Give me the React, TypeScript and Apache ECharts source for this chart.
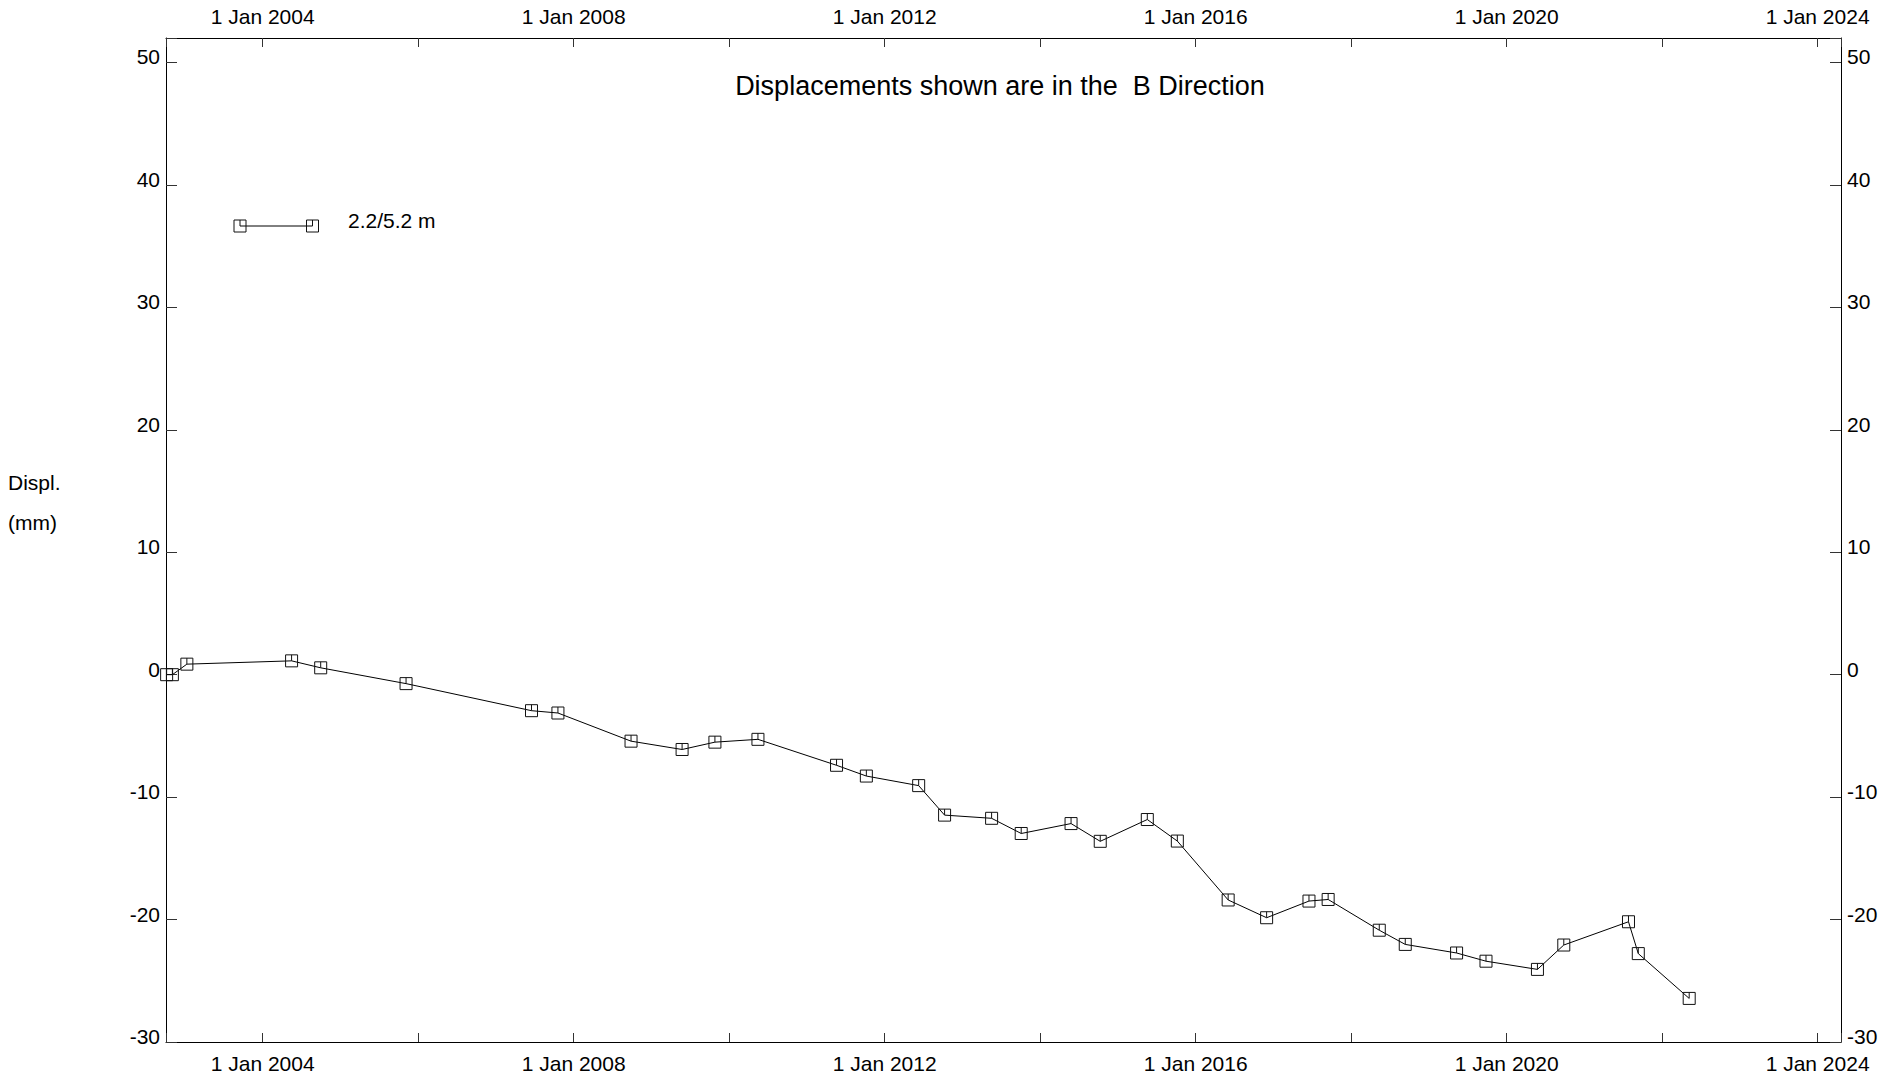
import React, { useEffect, useRef } from "react";
import * as echarts from "echarts";

// ---- Data ----
const surveyDates: string[] = [
  "2002-10-07", "2002-11-03", "2003-01-10", "2004-05-16", "2004-09-30",
  "2005-11-05", "2007-06-17", "2007-10-19", "2008-09-27", "2009-05-25",
  "2009-10-26", "2010-05-16", "2011-05-20", "2011-10-07", "2012-06-09",
  "2012-10-09", "2013-05-18", "2013-10-04", "2014-05-26", "2014-10-10",
  "2015-05-19", "2015-10-07", "2016-06-02", "2016-11-30", "2017-06-17",
  "2017-09-15", "2018-05-13", "2018-09-12", "2019-05-11", "2019-09-26",
  "2020-05-25", "2020-09-26", "2021-07-27", "2021-09-11", "2022-05-08",
];
const displacementMm: number[] = [
  0, 0, 0.86, 1.13, 0.56,
  -0.73, -2.94, -3.13, -5.43, -6.11,
  -5.51, -5.28, -7.4, -8.28, -9.06,
  -11.47, -11.73, -12.97, -12.16, -13.61,
  -11.83, -13.59, -18.4, -19.85, -18.49,
  -18.36, -20.87, -22.03, -22.73, -23.4,
  -24.07, -22.08, -20.18, -22.78, -26.44,
];
const seriesName = "2.2/5.2 m";
const chartTitle = "Displacements shown are in the  B Direction";
const yAxisNameLines: string[] = ["Displ.", "(mm)"];
const xRangeDates: string[] = ["2002-10-04", "2024-04-20"];
const yRange: number[] = [-30, 52];
const xLabelPrefix = "1 Jan ";

const FONT = "'Liberation Sans', Arial, Helvetica, sans-serif";

function toYear(s: string): number {
  const [y, m, d] = s.split("-").map(Number);
  const start = Date.UTC(y, 0, 1);
  const end = Date.UTC(y + 1, 0, 1);
  return y + (Date.UTC(y, m - 1, d) - start) / (end - start);
}

export default function App() {
  const ref = useRef<HTMLDivElement>(null);

  useEffect(() => {
    if (!ref.current) return;
    const chart = echarts.init(ref.current, undefined, { renderer: "svg" });

    const xMin = toYear(xRangeDates[0]);
    const xMax = toYear(xRangeDates[1]);

    const xAxisCommon: any = {
      type: "value",
      min: xMin,
      max: xMax,
      minInterval: 2,
      maxInterval: 2,
      splitNumber: 10,
      axisLine: { show: true, onZero: false, lineStyle: { color: "#000", width: 1 } },
      axisTick: { show: true, inside: true, length: 9, lineStyle: { color: "#333", width: 1 } },
      axisLabel: {
        formatter: (v: number) =>
          Math.abs(v % 4) < 1e-9 ? xLabelPrefix + Math.round(v) : "",
        margin: 11,
        fontSize: 21,
        color: "#000",
        fontFamily: FONT,
      },
      splitLine: { show: false },
    };

    const yAxisCommon: any = {
      type: "value",
      min: yRange[0],
      max: yRange[1],
      minInterval: 10,
      maxInterval: 10,
      splitNumber: 8,
      axisLine: { show: true, onZero: false, lineStyle: { color: "#000", width: 1 } },
      axisTick: { show: true, inside: true, length: 11, lineStyle: { color: "#333", width: 1 } },
      axisLabel: {
        formatter: (v: number) => (Math.abs(v % 10) < 1e-9 ? String(v) : ""),
        margin: 6,
        verticalAlign: "bottom",
        lineHeight: 11,
        fontSize: 21,
        color: "#000",
        fontFamily: FONT,
      },
      splitLine: { show: false },
    };

    const seriesData = surveyDates.map((d, i) => [toYear(d), displacementMm[i]]);

    // legend drawn with graphic elements
    const lgY = 226;
    const lgX1 = 240;
    const lgX2 = 312.5;
    const half = 6;
    const legendGraphic: any[] = [
      { type: "line", shape: { x1: lgX1, y1: lgY, x2: lgX2, y2: lgY }, style: { stroke: "#000", lineWidth: 1 } },
      { type: "rect", shape: { x: lgX1 - half, y: lgY - half, width: 12, height: 12 }, style: { fill: "none", stroke: "#111", lineWidth: 1 } },
      { type: "rect", shape: { x: lgX2 - half, y: lgY - half, width: 12, height: 12 }, style: { fill: "none", stroke: "#111", lineWidth: 1 } },
      { type: "line", shape: { x1: lgX1, y1: lgY - half, x2: lgX1, y2: lgY }, style: { stroke: "#111", lineWidth: 1 } },
      { type: "line", shape: { x1: lgX2, y1: lgY - half, x2: lgX2, y2: lgY }, style: { stroke: "#111", lineWidth: 1 } },
      {
        type: "text",
        x: 348,
        y: 220,
        style: {
          text: seriesName,
          fill: "#000",
          font: `21px ${FONT}`,
          textVerticalAlign: "middle",
          verticalAlign: "middle",
        },
      },
    ];

    chart.setOption({
      animation: false,
      backgroundColor: "#fff",
      title: [
        {
          text: chartTitle,
          left: 1000,
          top: 72,
          textAlign: "center",
          padding: 0,
          textStyle: { fontSize: 27, fontWeight: "normal", color: "#000", fontFamily: FONT },
        },
        {
          text: yAxisNameLines.join("\n"),
          left: 8,
          top: 462,
          padding: 0,
          textStyle: { fontSize: 21, lineHeight: 40, fontWeight: "normal", color: "#000", fontFamily: FONT },
        },
      ],
      grid: { left: 166, right: 61, top: 38, bottom: 38, containLabel: false },
      xAxis: [
        { ...xAxisCommon, position: "bottom" },
        { ...xAxisCommon, position: "top" },
      ],
      yAxis: [
        { ...yAxisCommon, position: "left" },
        { ...yAxisCommon, position: "right" },
      ],
      graphic: legendGraphic,
      series: [
        {
          type: "line",
          name: seriesName,
          xAxisIndex: 0,
          yAxisIndex: 0,
          data: seriesData,
          symbol: "path://M0,0L12,0L12,12L0,12ZM6,0L6,6",
          symbolSize: 12,
          showSymbol: true,
          itemStyle: { color: "rgba(0,0,0,0)", borderColor: "#111", borderWidth: 1 },
          lineStyle: { color: "#000", width: 1 },
          emphasis: { disabled: true },
          silent: true,
        },
      ],
    });

    return () => {
      chart.dispose();
    };
  }, []);

  return (
    <div
      ref={ref}
      style={{ position: "absolute", left: 0, top: 0, width: 1902, height: 1080, background: "#fff" }}
    />
  );
}
